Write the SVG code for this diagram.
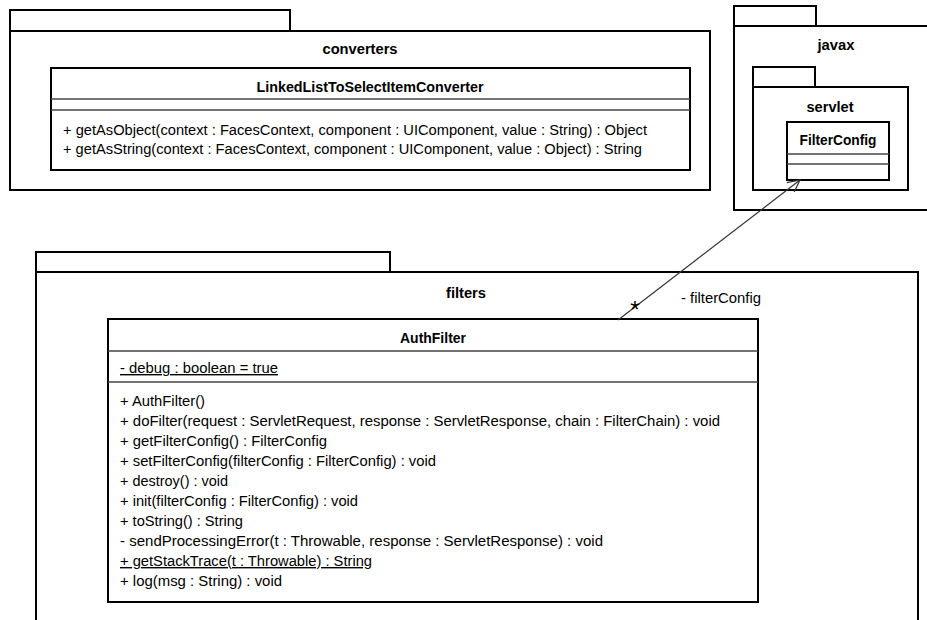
<svg xmlns="http://www.w3.org/2000/svg" width="927" height="620" viewBox="0 0 927 620">
  <defs>
    <marker id="openArrow" viewBox="0 0 14 14" refX="13" refY="7" markerWidth="14" markerHeight="14" markerUnits="userSpaceOnUse" orient="auto">
      <path d="M1,1 L13,7 L1,13" fill="none" stroke="#333" stroke-width="1.2"/>
    </marker>
  </defs>
  <style>
    .pkg { fill: #fff; stroke: #000; stroke-width: 2; }
    .cls { fill: #fff; stroke: #000; stroke-width: 2; }
    .sep { stroke: #444; stroke-width: 1.3; }
    .t { font-family: "Liberation Sans", Arial, sans-serif; font-size: 14px; fill: #000; }
    .b { font-weight: bold; text-anchor: middle; }
    .u { text-decoration: underline; }
    .conn { stroke: #333; stroke-width: 1.2; fill: none; }
  </style>
  <rect width="927" height="620" fill="#fff"/>

  <!-- package: converters -->
  <g id="pkg-converters">
    <rect class="pkg" x="10" y="10" width="280" height="21"/>
    <rect class="pkg" x="10" y="31" width="700" height="159"/>
    <text class="t b" x="360" y="54" textLength="75" lengthAdjust="spacingAndGlyphs">converters</text>
  </g>

  <g id="cls-LinkedListToSelectItemConverter">
    <rect class="cls" x="51" y="68" width="639" height="102"/>
    <line class="sep" x1="51" y1="99" x2="690" y2="99"/>
    <line class="sep" x1="51" y1="110" x2="690" y2="110"/>
    <text class="t b" x="370" y="92" textLength="227" lengthAdjust="spacingAndGlyphs">LinkedListToSelectItemConverter</text>
    <text class="t" x="63" y="135" textLength="584" lengthAdjust="spacingAndGlyphs">+ getAsObject(context : FacesContext, component : UIComponent, value : String) : Object</text>
    <text class="t" x="63" y="154" textLength="579" lengthAdjust="spacingAndGlyphs">+ getAsString(context : FacesContext, component : UIComponent, value : Object) : String</text>
  </g>

  <!-- package: javax -->
  <g id="pkg-javax">
    <rect class="pkg" x="734" y="6" width="82" height="20"/>
    <rect class="pkg" x="734" y="26" width="210" height="184"/>
    <text class="t b" x="836" y="50" textLength="37" lengthAdjust="spacingAndGlyphs">javax</text>
  </g>

  <g id="pkg-servlet">
    <rect class="pkg" x="753" y="67" width="62" height="20"/>
    <rect class="pkg" x="753" y="87" width="155" height="103"/>
    <text class="t b" x="830" y="112" textLength="47" lengthAdjust="spacingAndGlyphs">servlet</text>
  </g>

  <g id="cls-FilterConfig">
    <rect class="cls" x="787" y="122" width="102" height="58"/>
    <line class="sep" x1="787" y1="154" x2="889" y2="154"/>
    <line class="sep" x1="787" y1="164" x2="889" y2="164"/>
    <text class="t b" x="838" y="145" textLength="77" lengthAdjust="spacingAndGlyphs">FilterConfig</text>
  </g>

  <!-- package: filters -->
  <g id="pkg-filters">
    <rect class="pkg" x="36" y="252" width="354" height="20"/>
    <rect class="pkg" x="36" y="272" width="882" height="360"/>
    <text class="t b" x="466" y="298" textLength="40" lengthAdjust="spacingAndGlyphs">filters</text>
  </g>

  <g id="cls-AuthFilter">
    <rect class="cls" x="108" y="319" width="650" height="283"/>
    <line class="sep" x1="108" y1="351" x2="758" y2="351"/>
    <line class="sep" x1="108" y1="382" x2="758" y2="382"/>
    <text class="t b" x="433" y="343" textLength="66" lengthAdjust="spacingAndGlyphs">AuthFilter</text>
    <text class="t u" x="120" y="373" textLength="158" lengthAdjust="spacingAndGlyphs">- debug : boolean = true</text>
    <text class="t" x="120" y="406" textLength="85" lengthAdjust="spacingAndGlyphs">+ AuthFilter()</text>
    <text class="t" x="120" y="426" textLength="600" lengthAdjust="spacingAndGlyphs">+ doFilter(request : ServletRequest, response : ServletResponse, chain : FilterChain) : void</text>
    <text class="t" x="120" y="446" textLength="207" lengthAdjust="spacingAndGlyphs">+ getFilterConfig() : FilterConfig</text>
    <text class="t" x="120" y="466" textLength="316" lengthAdjust="spacingAndGlyphs">+ setFilterConfig(filterConfig : FilterConfig) : void</text>
    <text class="t" x="120" y="486" textLength="108" lengthAdjust="spacingAndGlyphs">+ destroy() : void</text>
    <text class="t" x="120" y="506" textLength="238" lengthAdjust="spacingAndGlyphs">+ init(filterConfig : FilterConfig) : void</text>
    <text class="t" x="120" y="526" textLength="123" lengthAdjust="spacingAndGlyphs">+ toString() : String</text>
    <text class="t" x="120" y="546" textLength="483" lengthAdjust="spacingAndGlyphs">- sendProcessingError(t : Throwable, response : ServletResponse) : void</text>
    <text class="t u" x="120" y="566" textLength="252" lengthAdjust="spacingAndGlyphs">+ getStackTrace(t : Throwable) : String</text>
    <text class="t" x="120" y="586" textLength="162" lengthAdjust="spacingAndGlyphs">+ log(msg : String) : void</text>
  </g>

  <!-- association AuthFilter -> FilterConfig -->
  <g id="connectors">
    <line class="conn" x1="618" y1="320" x2="800" y2="180" marker-end="url(#openArrow)"/>
    <text class="t" x="635" y="318" text-anchor="middle" style="font-size:24px">*</text>
    <text class="t" x="681" y="303" textLength="80" lengthAdjust="spacingAndGlyphs">- filterConfig</text>
  </g>
</svg>
